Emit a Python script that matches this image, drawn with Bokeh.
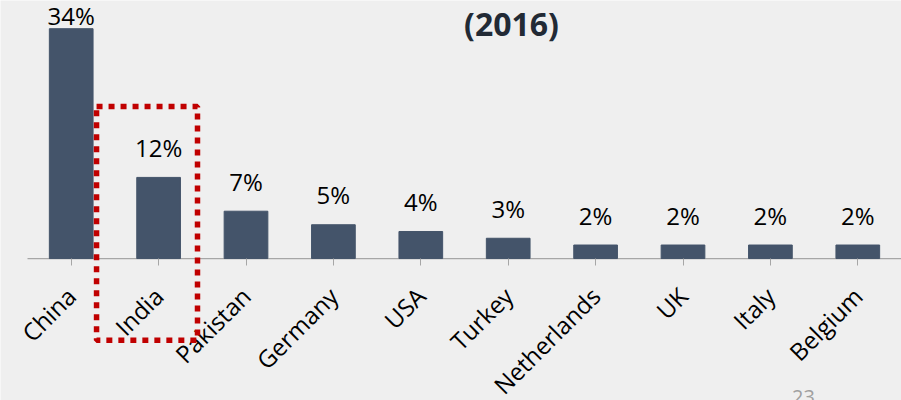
import numpy as np
from bokeh.plotting import figure
from bokeh.models import ColumnDataSource, Range1d, LinearAxis, FixedTicker, BoxAnnotation, Label
from bokeh.core.properties import value
from bokeh.embed import file_html
from bokeh.resources import INLINE

# ---- data ----
countries = ["China", "India", "Pakistan", "Germany", "USA", "Turkey",
             "Netherlands", "UK", "Italy", "Belgium"]
shares = [34, 12, 7, 5, 4, 3, 2, 2, 2, 2]
share_labels = ["34%", "12%", "7%", "5%", "4%", "3%", "2%", "2%", "2%", "2%"]
title_text = "(2016)"
highlight = "India"
page_number = "23"

# ---- layout constants ----
W, H = 901, 400
X_START, X_END = -0.809, 9.5
Y_END = 38.17
Y_START = -21.0
BG = "#efefef"
BAR = "#44546a"
AXIS = "#a6a6a6"

idx = list(range(len(countries)))
vals = np.array(shares, dtype=float)
label_y = np.minimum(vals + 3.1, Y_END - 3.5)

src = ColumnDataSource(dict(x=idx, name=countries, top=shares, label=share_labels, ly=label_y))

p = figure(width=W, height=H, output_backend="svg", toolbar_location=None,
           x_range=Range1d(X_START, X_END),
           y_range=Range1d(Y_START, Y_END),
           x_axis_location=None, y_axis_location=None,
           min_border_left=0, min_border_right=0, min_border_top=0, min_border_bottom=0)
p.background_fill_color = BG
p.border_fill_color = BG
p.outline_line_color = None
p.xgrid.visible = False
p.ygrid.visible = False

# baseline spanning the category band
p.segment(x0=[idx[0] - 0.5], y0=[0], x1=[idx[-1] + 0.5], y1=[0],
          line_color=AXIS, line_width=1.2)

p.vbar(x="x", top="top", width=0.5, source=src, color=BAR)

p.text(x="x", y="ly", text="label", source=src, text_align="center",
       text_baseline="alphabetic", y_offset=-9, text_font=value("Open Sans"),
       text_font_size="24px", text_color="#000000")

ax = LinearAxis(fixed_location=0, ticker=FixedTicker(ticks=idx),
                major_label_overrides={i: c for i, c in zip(idx, countries)})
ax.axis_line_color = None
ax.major_tick_line_color = AXIS
ax.major_tick_out = 7
ax.major_tick_in = 0
ax.minor_tick_line_color = None
ax.major_label_orientation = np.pi / 4
ax.major_label_standoff = 26
ax.major_label_text_font = "Open Sans"
ax.major_label_text_font_size = "24px"
ax.major_label_text_color = "#000000"
p.add_layout(ax, "below")

hi = countries.index(highlight)
box = BoxAnnotation(left=hi - 0.71, right=hi + 0.445, top=vals[hi] + 10.5, bottom=-12.1,
                    fill_color=None, fill_alpha=0,
                    line_color="#c00000", line_alpha=1.0, line_width=5.5, line_dash="6 6")
p.add_layout(box)

p.add_layout(Label(x=511, y=H - 36 + 13, x_units="screen", y_units="screen", text=title_text,
                   text_align="center", text_baseline="alphabetic",
                   text_font="Open Sans", text_font_style="bold",
                   text_font_size="32px", text_color="#222a35"))

p.add_layout(Label(x=803, y=4, x_units="screen", y_units="screen", text=page_number,
                   text_align="center", text_baseline="alphabetic",
                   text_font="Open Sans", text_font_size="20px", text_color="#a0a0a0"))

open("out.html", "w").write(file_html(p, INLINE))
